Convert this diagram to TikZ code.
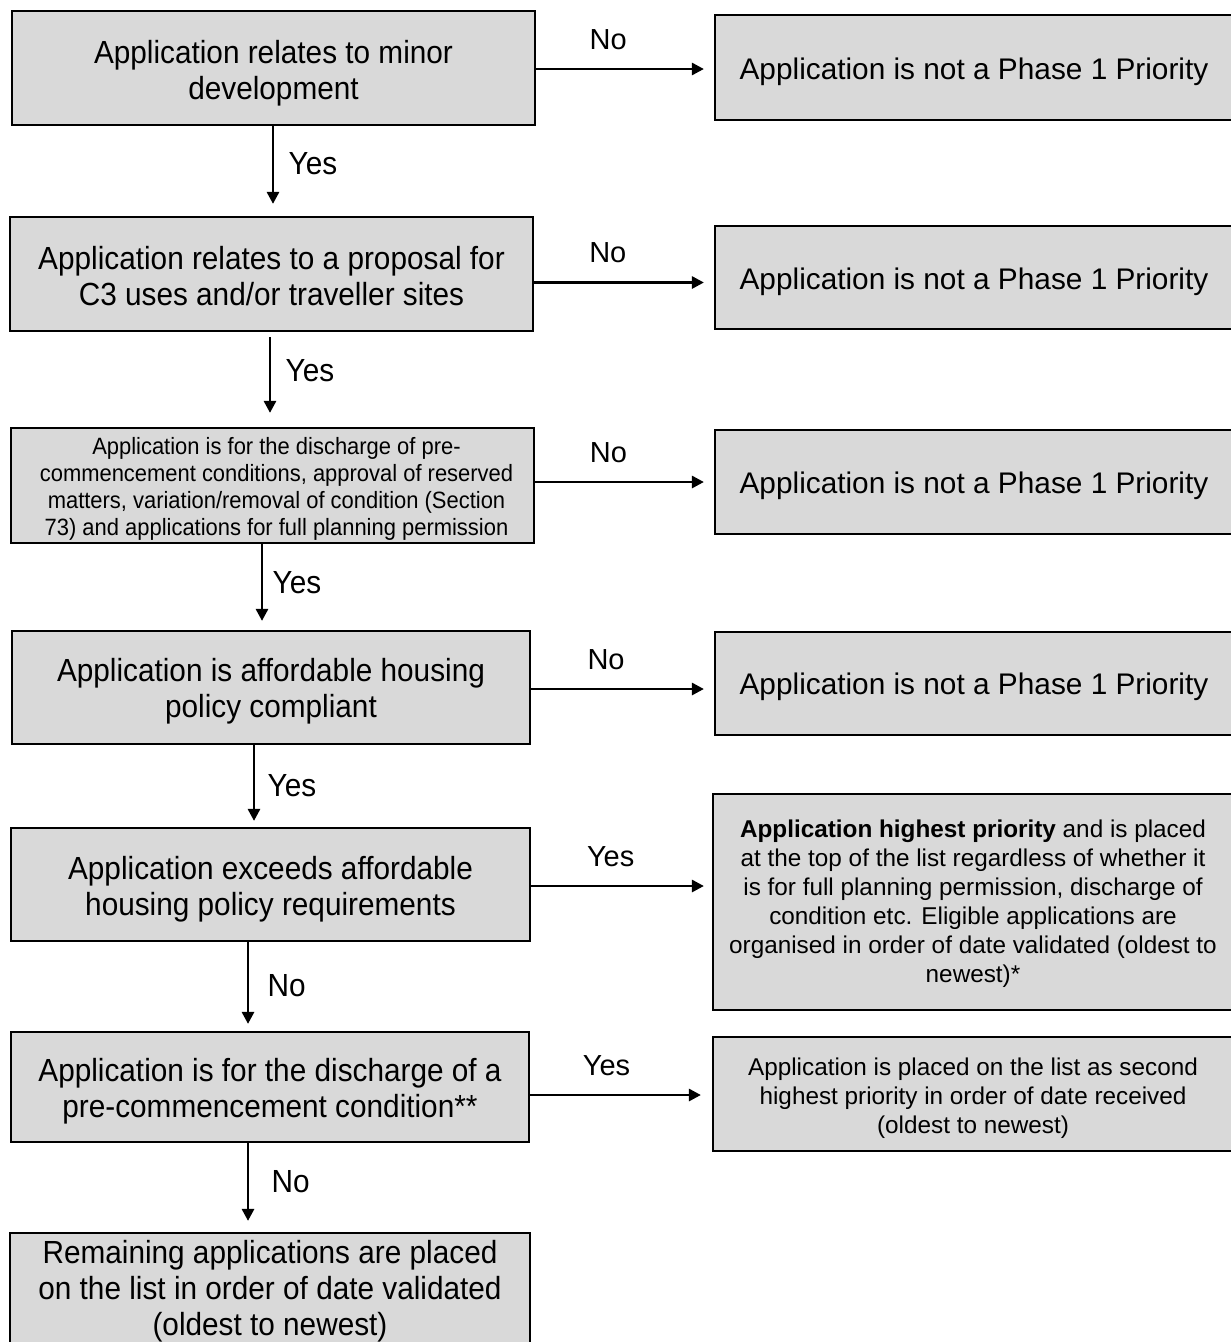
\documentclass[tikz,border=0pt]{standalone}
\usepackage{fontspec}
\setmainfont{Liberation Sans}
\newfontfamily\condfont[FakeStretch=0.93]{Liberation Sans}
\usetikzlibrary{arrows.meta}
\definecolor{boxgray}{HTML}{D9D9D9}
\begin{document}
\begin{tikzpicture}[x=1pt,y=-1pt,
  box/.style={draw=black, line width=2.2pt, fill=boxgray, inner sep=0pt},
  txt/.style={align=center, inner sep=0pt, text=black, yshift=-4pt},
  ltxt/.style={txt, font=\condfont\fontsize{32}{36}\selectfont},
  stxt/.style={txt, font=\condfont\fontsize{23.6}{27}\selectfont},
  rtxt/.style={txt, font=\fontsize{29.8}{35}\selectfont},
  ttxt/.style={txt, font=\fontsize{24.3}{29}\selectfont},
  arr/.style={line width=2.8pt, -{Triangle[length=12pt,width=12pt]}},
  hlab/.style={font=\fontsize{29}{34}\selectfont, anchor=base, yshift=20pt},
  vlab/.style={font=\condfont\fontsize{32}{36}\selectfont, anchor=west},
]
\useasboundingbox (0,0) rectangle (1231,1342);
\fill[white] (0,0) rectangle (1231,1342);

% left column boxes
\node[box, minimum width=523pt, minimum height=114pt] (b1) at (273.5,68) {};
\node[box, minimum width=523pt, minimum height=114pt] (b2) at (271.5,274) {};
\node[box, minimum width=523pt, minimum height=115pt] (b3) at (272.5,485.5) {};
\node[box, minimum width=518pt, minimum height=113pt] (b4) at (271,687.5) {};
\node[box, minimum width=519pt, minimum height=113pt] (b5) at (270.5,884.5) {};
\node[box, minimum width=518pt, minimum height=110pt] (b6) at (270,1087) {};
\node[box, minimum width=520pt, minimum height=116pt] (b7) at (270,1291) {};

\node[ltxt, yshift=-1pt] (b1t) at (b1) {Application relates to minor\\development};
\node[ltxt, yshift=2pt] (b2t) at (b2) {Application relates to a proposal for\\C3 uses and/or traveller sites};
\node[stxt, xshift=4pt, yshift=1pt] (b3t) at (b3) {Application is for the discharge of pre-\\commencement conditions, approval of reserved\\matters, variation/removal of condition (Section\\73) and applications for full planning permission};
\node[ltxt] (b4t) at (b4) {Application is affordable housing\\policy compliant};
\node[ltxt, yshift=-1pt] (b5t) at (b5) {Application exceeds affordable\\housing policy requirements};
\node[ltxt] (b6t) at (b6) {Application is for the discharge of a\\pre-commencement condition**};
\node[ltxt, yshift=4pt] (b7t) at (b7) {Remaining applications are placed\\on the list in order of date validated\\(oldest to newest)};

% right column boxes
\node[box, minimum width=518pt, minimum height=105pt] (r1) at (974,67.5) {};
\node[box, minimum width=518pt, minimum height=103pt] (r2) at (974,277.5) {};
\node[box, minimum width=518pt, minimum height=104pt] (r3) at (974,482) {};
\node[box, minimum width=518pt, minimum height=103pt] (r4) at (974,683.5) {};
\node[box, minimum width=520pt, minimum height=216pt] (r5) at (973,902) {};
\node[box, minimum width=520pt, minimum height=114pt] (r6) at (973,1094) {};

\node[rtxt] (r1t) at (r1) {Application is not a Phase 1 Priority};
\node[rtxt] (r2t) at (r2) {Application is not a Phase 1 Priority};
\node[rtxt] (r3t) at (r3) {Application is not a Phase 1 Priority};
\node[rtxt, yshift=1pt] (r4t) at (r4) {Application is not a Phase 1 Priority};
\node[ttxt, yshift=2pt] (r5t) at (r5) {\textbf{Application highest priority} and is placed\\at the top of the list regardless of whether it\\is for full planning permission, discharge of\\condition etc. Eligible applications are\\organised in order of date validated (oldest to\\newest)*};
\node[ttxt] (r6t) at (r6) {Application is placed on the list as second\\highest priority in order of date received\\(oldest to newest)};

% horizontal connectors
\draw[arr, shorten >=10pt] ([yshift=-1pt]b1.east) -- ([yshift=-1pt]b1.east -| r1.west) node[hlab, pos=0.405] {No};
\draw[arr, shorten >=10pt] ([yshift=-8.5pt]b2.east) -- ([yshift=-8.5pt]b2.east -| r2.west) node[hlab, pos=0.41] {No};
\draw[arr, shorten >=10pt] ([yshift=3.5pt]b3.east) -- ([yshift=3.5pt]b3.east -| r3.west) node[hlab, pos=0.41] {No};
\draw[arr, shorten >=10pt] ([yshift=-1.5pt]b4.east) -- ([yshift=-1.5pt]b4.east -| r4.west) node[hlab, pos=0.41] {No};
\draw[arr, shorten >=8pt] ([yshift=-1.5pt]b5.east) -- ([yshift=-1.5pt]b5.east -| r5.west) node[hlab, pos=0.44] {Yes};
\draw[arr, shorten >=11pt] ([yshift=-8pt]b6.east) -- ([yshift=-8pt]b6.east -| r6.west) node[hlab, pos=0.42] {Yes};

% vertical connectors
\draw[arr, shorten >=12pt] ([xshift=-0.5pt]b1.south) -- ([xshift=-0.5pt]b1.south |- b2.north) node[vlab, pos=0.42, xshift=11pt] {Yes};
\draw[arr, shorten <=5pt, shorten >=14pt] ([xshift=-1.5pt]b2.south) -- ([xshift=-1.5pt]b2.south |- b3.north) node[vlab, pos=0.41, xshift=11pt] {Yes};
\draw[arr, shorten >=9pt] ([xshift=-10.5pt]b3.south) -- ([xshift=-10.5pt]b3.south |- b4.north) node[vlab, pos=0.45, xshift=6pt] {Yes};
\draw[arr, shorten >=6pt] ([xshift=-17pt]b4.south) -- ([xshift=-17pt]b4.south |- b5.north) node[vlab, pos=0.49, xshift=9pt] {Yes};
\draw[arr, shorten >=7pt] ([xshift=-22.5pt]b5.south) -- ([xshift=-22.5pt]b5.south |- b6.north) node[vlab, pos=0.49, xshift=15pt] {No};
\draw[arr, shorten >=11pt] ([xshift=-22pt]b6.south) -- ([xshift=-22pt]b6.south |- b7.north) node[vlab, pos=0.43, xshift=19pt] {No};
\end{tikzpicture}
\end{document}
